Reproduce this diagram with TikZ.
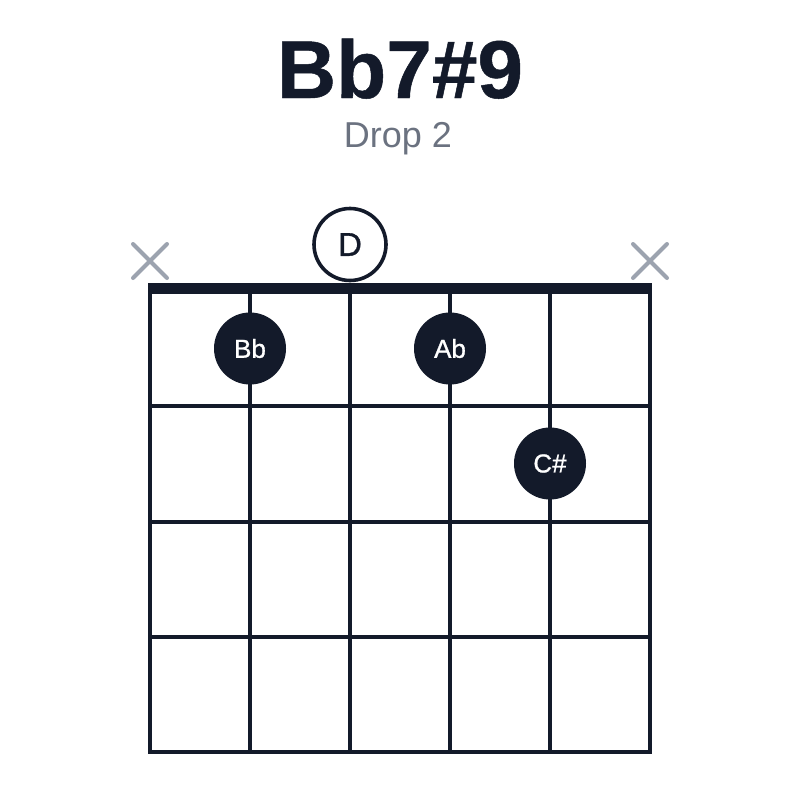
\documentclass[tikz,border=0pt]{standalone}
\usepackage{fontspec}
\setmainfont{Liberation Sans}
\newfontfamily\medfont{Liberation Sans}[FakeBold=0.9]
\newfontfamily\heavyfont{Liberation Sans Bold}[FakeBold=0.6]
\definecolor{ink}{HTML}{131A2A}
\definecolor{subgray}{HTML}{6B7280}
\definecolor{xgray}{HTML}{9CA3AF}
\begin{document}
\begin{tikzpicture}[x=1pt,y=-1pt,
  gridline/.style={draw=ink,line width=3.4pt},
  fingerdot/.style={circle,fill=ink,minimum size=72pt,inner sep=0pt,text=white,font=\medfont\fontsize{26}{26}\selectfont},
  opennote/.style={circle,draw=ink,fill=white,line width=3.6pt,minimum size=72pt,inner sep=0pt,text=ink,font=\medfont\fontsize{33}{33}\selectfont},
  mutemark/.style={draw=xgray,line width=4pt,line cap=round}]
\useasboundingbox (0,0) rectangle (800,800);
\fill[white] (0,0) rectangle (800,800);
% title
\node[anchor=base,text=ink,font=\heavyfont\fontsize{82}{82}\selectfont,inner sep=0pt] (title) at (400,98) {Bb7\#9};
\node[anchor=base,text=subgray,font=\fontsize{36}{36}\selectfont,inner sep=0pt] (sub) at (398,147) {Drop 2};
% strings
\foreach \i/\x in {1/150,2/250,3/350,4/450,5/550,6/650}{
  \coordinate (s\i top) at (\x,288);
  \coordinate (s\i bot) at (\x,752);
  \draw[gridline] (s\i top) -- (s\i bot);
}
% frets
\foreach \j/\y in {1/406,2/522,3/637,4/752}{
  \coordinate (f\j l) at (148.3,\y);
  \coordinate (f\j r) at (651.7,\y);
  \draw[gridline] (f\j l) -- (f\j r);
}
% nut
\fill[ink] (148,282.5) rectangle (652,293.5);
% muted strings
\coordinate (m1) at (150,261);
\coordinate (m6) at (650,261);
\foreach \m in {m1,m6}{
  \draw[mutemark] ([shift={(-17,-17)}]\m) -- ([shift={(17,17)}]\m);
  \draw[mutemark] ([shift={(-17,17)}]\m) -- ([shift={(17,-17)}]\m);
}
% open note
\node[opennote] (d) at (350,244.5) {D};
% fingered notes
\node[fingerdot] (bb) at (250,348.5) {Bb};
\node[fingerdot] (ab) at (450,348.5) {Ab};
\node[fingerdot] (cs) at (550,463.5) {C\#};
\end{tikzpicture}
\end{document}
